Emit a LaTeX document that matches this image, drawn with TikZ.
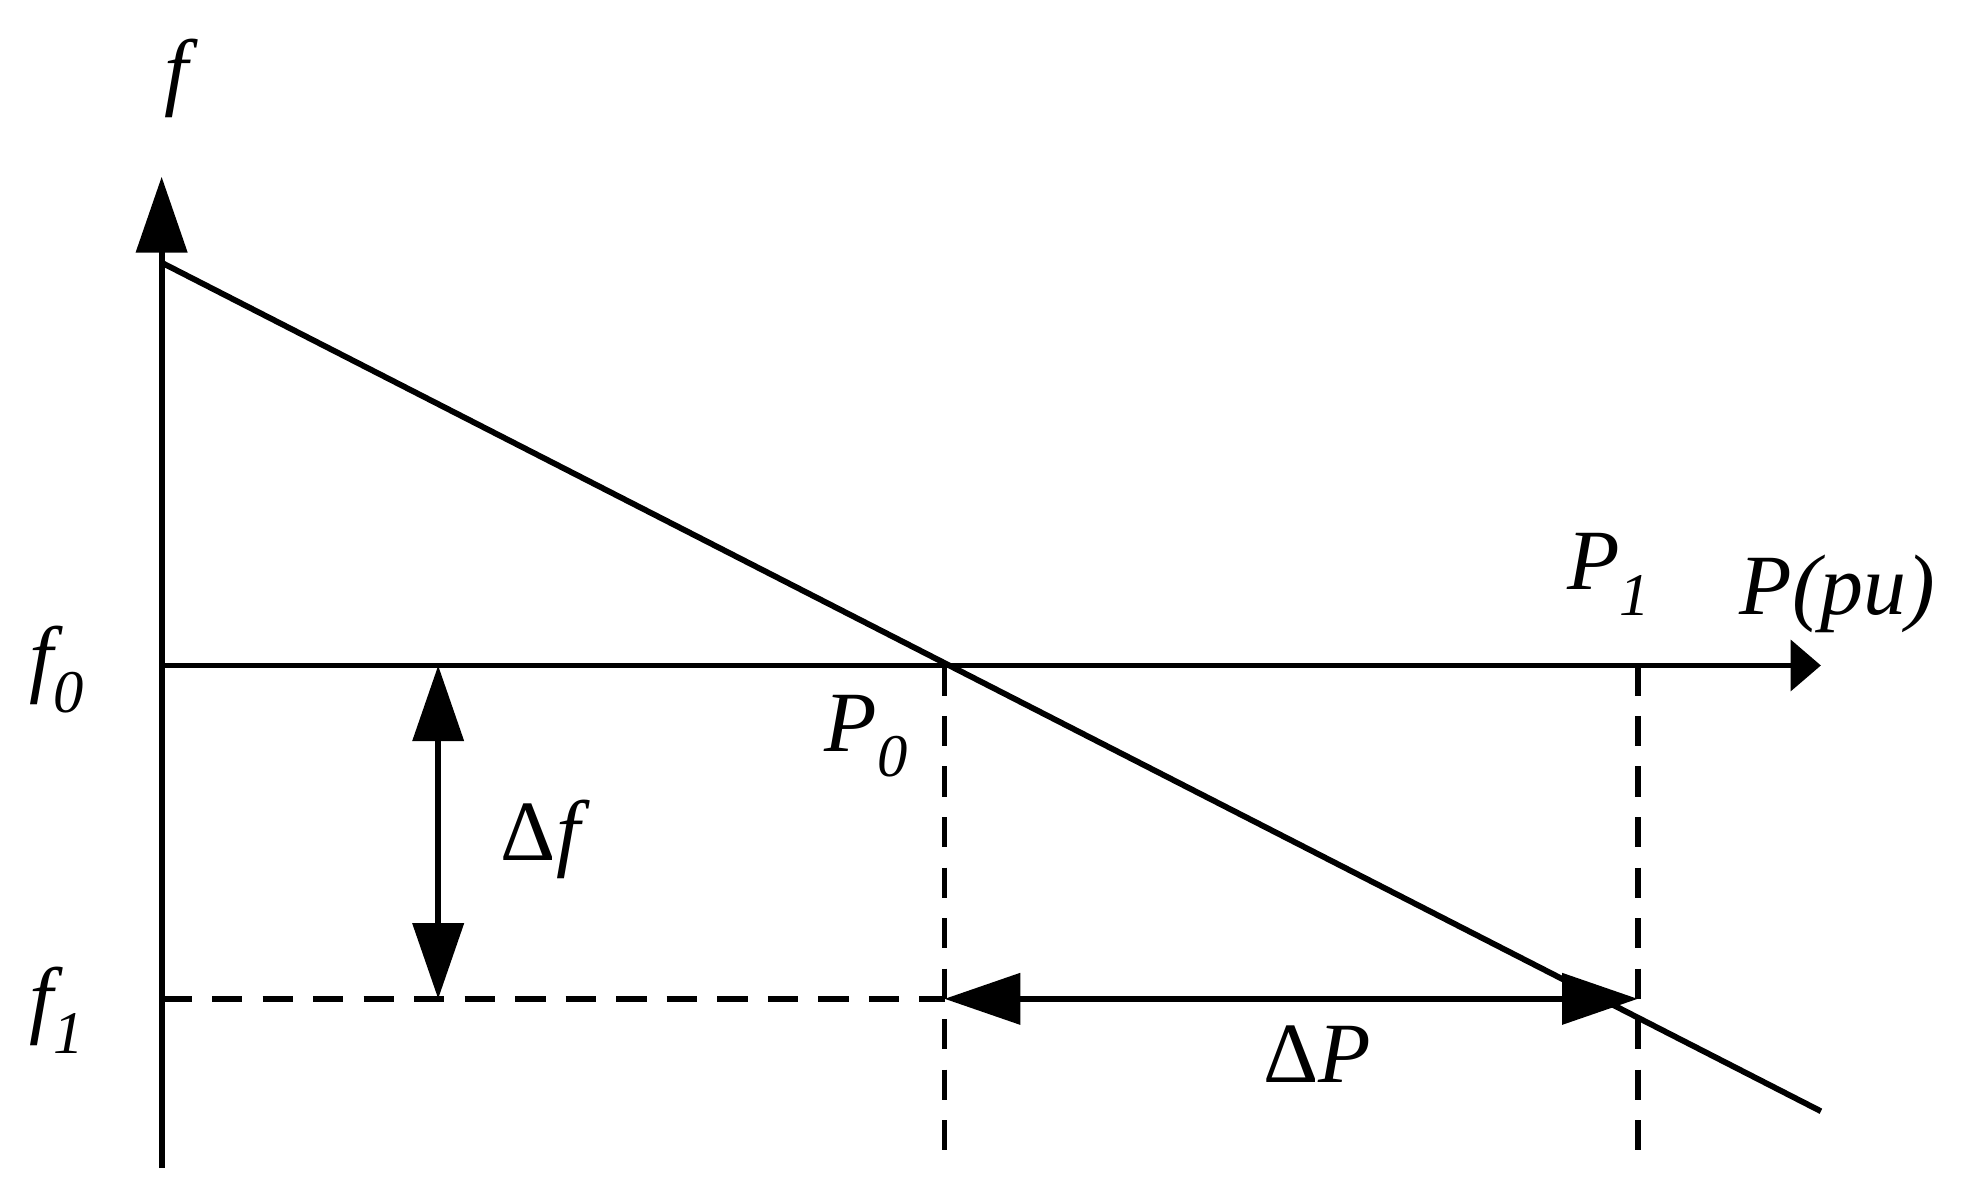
\documentclass[tikz,border=0pt]{standalone}
\usepackage{fontspec}
\setmainfont{Liberation Serif}
\usetikzlibrary{arrows.meta}
\newcommand{\lowsub}[1]{\raisebox{-0.3em}{\fontsize{24pt}{26pt}\selectfont #1}}
\begin{document}
\begin{tikzpicture}[x=0.5pt,y=-0.5pt,
  ln/.style={line width=2.3pt},
  dsh/.style={line width=2.2pt,dash pattern=on 12pt off 8pt},
  tri/.style={-{Triangle[length=30pt,width=20pt]}},
  stri/.style={-{Triangle[length=12pt,width=20pt]}},
  dtri/.style={{Triangle[length=30pt,width=20pt]}-{Triangle[length=30pt,width=20pt]}},
  lab/.style={font=\fontsize{34pt}{38pt}\selectfont\itshape, inner sep=0pt}]
\useasboundingbox (0,0) rectangle (1568,952);
\coordinate (O) at (128,527);
\coordinate (ybot) at (128,925);
\coordinate (ytop) at (128,140);
\coordinate (xend) at (1442,527);
\coordinate (L1) at (128,208);
\coordinate (L2) at (1442,880);
\coordinate (P0t) at (748,527);
\coordinate (P0b) at (748,920);
\coordinate (P1t) at (1297,527);
\coordinate (P1b) at (1297,920);
\coordinate (f1a) at (128,791);
\coordinate (f1b) at (748,791);
\coordinate (dfa) at (347,527);
\coordinate (dfb) at (347,791);
\coordinate (dpb) at (1297,791);
\draw[ln,tri] (ybot) -- (ytop);
\draw[ln,stri] (O) -- (xend);
\draw[ln] (L1) -- (L2);
\draw[dsh] (P0t) -- (P0b);
\draw[dsh] (P1t) -- (P1b);
\draw[dsh] (f1a) -- (f1b);
\draw[ln,dtri] (dfa) -- (dfb);
\draw[ln,dtri] (f1b) -- (dpb);
\node[lab] (nf) at (140,62) {f};
\node[lab] (nf0) at (45,530) {f\lowsub{0}};
\node[lab] (nf1) at (45,800) {f\lowsub{1}};
\node[lab] (nP0) at (686,583) {P\lowsub{0}};
\node[lab] (nP1) at (1274,455) {P\lowsub{1}};
\node[lab] (nPpu) at (1455,470) {P(pu)};
\node[lab] (ndf) at (428,665) {\upshape Δ\itshape f};
\node[lab] (ndP) at (1043,835) {\upshape Δ\itshape P};
\end{tikzpicture}
\end{document}
